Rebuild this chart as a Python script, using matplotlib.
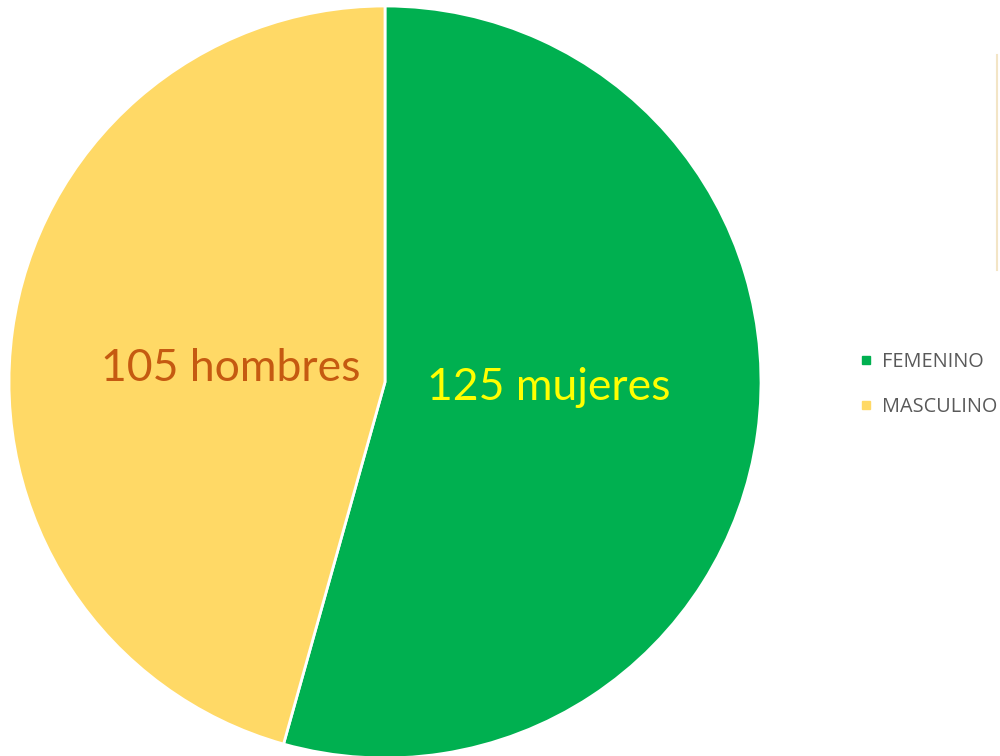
import matplotlib
matplotlib.use("Agg")
import matplotlib.pyplot as plt
from matplotlib.lines import Line2D

# Data
categories = ["FEMENINO", "MASCULINO"]
counts = [125, 105]
labels = ["125 mujeres", "105 hombres"]
colors = ["#00B050", "#FFD966"]
label_colors = ["#FFFF00", "#C55A11"]

fig = plt.figure(figsize=(10, 7.56), dpi=100)
fig.patch.set_facecolor("white")

# pie axes: centre (385, 382) px, radius 376 px
ax = fig.add_axes([9 / 1000, (756 - 382 - 376) / 756, 752 / 1000, 752 / 756])
wedges, _ = ax.pie(
    counts,
    colors=colors,
    startangle=90,
    counterclock=False,
    wedgeprops=dict(edgecolor="white", linewidth=2),
    radius=1.0,
)
ax.set_xlim(-1, 1)
ax.set_ylim(-1, 1)
ax.set_aspect("equal")
ax.axis("off")

# data labels
ax.text(0.435, -0.015, labels[0], color=label_colors[0], fontsize=32,
        family="Lato", ha="center", va="center")
ax.text(-0.41, 0.035, labels[1], color=label_colors[1], fontsize=32,
        family="Lato", ha="center", va="center")

# legend
handles = [Line2D([], [], marker="s", linestyle="", markersize=6,
                  markerfacecolor=c, markeredgecolor=c) for c in colors]
fig.legend(handles, categories, loc="center left",
           bbox_to_anchor=(0.838, 0.492), frameon=False,
           prop={"family": "Open Sans", "size": 14.3}, labelcolor="#595959",
           handletextpad=0.3, labelspacing=1.26, handlelength=1.0)

# faint border line at the right edge
fig.add_artist(Line2D([0.997, 0.997], [1 - 55 / 756, 1 - 270 / 756],
                      transform=fig.transFigure, color="#F3E5C6", linewidth=1.5))

fig.savefig("out.png", dpi=100)
